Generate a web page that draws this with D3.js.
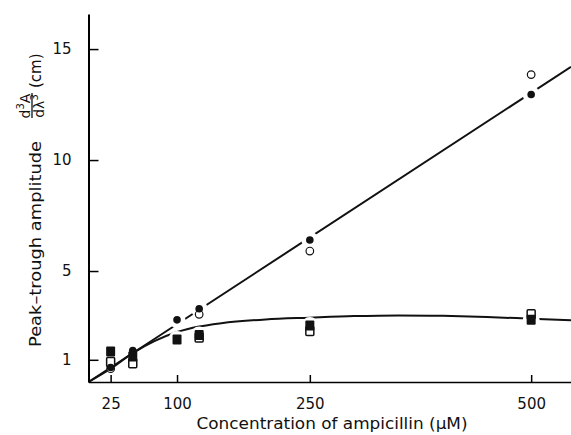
<!DOCTYPE html>
<html>
<head>
<meta charset="utf-8">
<script src="https://cdn.jsdelivr.net/npm/d3@7"></script>
<style>
  body { margin: 0; background: #fff; }
  svg { display: block; }
  text { font-family: "DejaVu Sans", sans-serif; fill: #111; }
</style>
</head>
<body>
<svg id="chart" width="571" height="435"></svg>
<script>
// ampicillin concentrations (µM)
const conc = [25, 50, 100, 125, 250, 500];

// peak-trough amplitudes (cm), null = not visible
const filledCircles = [0.65, 1.42, 2.8, 3.3, 6.4, 12.95];
const openCircles   = [0.6, null, null, 3.05, 5.9, 13.85];
const filledSquares = [1.37, 1.15, 1.92, 2.12, 2.55, 2.8];
const openSquares   = [0.9, 0.85, null, 2.0, 2.3, 3.05];

// straight line and saturating curve as drawn
const lineA = [[0, 0], [545, 14.2]];
const curveB = [[0, 0], [25, 0.6], [50, 1.3], [75, 1.85], [100, 2.25], [125, 2.5],
  [150, 2.65], [200, 2.82], [250, 2.9], [300, 2.97], [350, 3.0], [400, 2.98],
  [450, 2.93], [500, 2.85], [545, 2.78]];

const xTicks = [25, 100, 250, 500];
const yTicks = [1, 5, 10, 15];

const svg = d3.select("#chart");

const x = d3.scaleLinear().domain([0, 545]).range([88.5, 571]);
const y = d3.scaleLinear().domain([0, 16.58]).range([382, 14]);

const lineGen = d3.line()
  .x(d => x(d[0]))
  .y(d => y(d[1]));

// lines
svg.append("path")
  .datum(lineA)
  .attr("d", lineGen)
  .attr("fill", "none")
  .attr("stroke", "#111")
  .attr("stroke-width", 2);

svg.append("path")
  .datum(curveB)
  .attr("d", lineGen.curve(d3.curveMonotoneX))
  .attr("fill", "none")
  .attr("stroke", "#111")
  .attr("stroke-width", 2);

// white halos break the lines around the points, like the original
const haloIdx = [2, 3, 4, 5];
const halos = svg.append("g").attr("fill", "#fff");
haloIdx.forEach(i => {
  [filledCircles[i], filledSquares[i]].forEach(v => {
    halos.append("circle")
      .attr("cx", x(conc[i]))
      .attr("cy", y(v))
      .attr("r", 8.5);
  });
});

// axes
const xAxis = d3.axisBottom(x)
  .tickValues(xTicks)
  .tickSizeInner(-7)
  .tickSizeOuter(0)
  .tickPadding(16);

const gx = svg.append("g")
  .attr("transform", `translate(0, ${y(0)})`)
  .call(xAxis);
gx.select(".domain").attr("stroke-width", 1.5);
gx.selectAll(".tick line").attr("stroke-width", 1.5);
gx.selectAll(".tick text").attr("font-size", 15).attr("fill", "#111");

const yAxis = d3.axisLeft(y)
  .tickValues(yTicks)
  .tickSizeInner(-10)
  .tickSizeOuter(0)
  .tickPadding(17);

const gy = svg.append("g")
  .attr("transform", `translate(${x(0)}, 0)`)
  .call(yAxis);
gy.select(".domain").attr("stroke-width", 2);
gy.selectAll(".tick line").attr("stroke-width", 1.5);
gy.selectAll(".tick text").attr("font-size", 15).attr("fill", "#111");

// markers
const pts = (vals) => conc.map((c, i) => ({ c, v: vals[i] })).filter(d => d.v != null);

svg.append("g").selectAll("rect")
  .data(pts(openSquares))
  .join("rect")
  .attr("x", d => x(d.c) - 4)
  .attr("y", d => y(d.v) - 4.5)
  .attr("width", 8)
  .attr("height", 9)
  .attr("rx", 1)
  .attr("fill", "#fff")
  .attr("stroke", "#111")
  .attr("stroke-width", 1.5);

svg.append("g").selectAll("rect")
  .data(pts(filledSquares))
  .join("rect")
  .attr("x", d => x(d.c) - 4.5)
  .attr("y", d => y(d.v) - 5)
  .attr("width", 9)
  .attr("height", 10)
  .attr("rx", 1)
  .attr("fill", "#111");

svg.append("g").selectAll("circle")
  .data(pts(openCircles))
  .join("circle")
  .attr("cx", d => x(d.c))
  .attr("cy", d => y(d.v))
  .attr("r", 3.8)
  .attr("fill", "#fff")
  .attr("stroke", "#111")
  .attr("stroke-width", 1.2);

svg.append("g").selectAll("circle")
  .data(pts(filledCircles))
  .join("circle")
  .attr("cx", d => x(d.c))
  .attr("cy", d => y(d.v))
  .attr("r", 3.8)
  .attr("fill", "#111");

// x title
svg.append("text")
  .attr("x", 332)
  .attr("y", 429)
  .attr("text-anchor", "middle")
  .attr("font-size", 15)
  .attr("textLength", 271)
  .attr("lengthAdjust", "spacingAndGlyphs")
  .text("Concentration of ampicillin (\u03bcM)");

// y title, rotated, with the d3A/dλ3 fraction
const yt = svg.append("g").attr("transform", "translate(41, 347) rotate(-90)");
yt.append("text")
  .attr("x", 0)
  .attr("y", 0)
  .attr("font-size", 16)
  .attr("textLength", 206)
  .attr("lengthAdjust", "spacingAndGlyphs")
  .text("Peak\u2013trough amplitude");
yt.append("text")
  .attr("x", 241)
  .attr("y", -11.5)
  .attr("text-anchor", "middle")
  .attr("font-size", 14)
  .html("d<tspan font-size='10' dy='-6'>3</tspan><tspan dy='6'>A</tspan>");
yt.append("line")
  .attr("x1", 229).attr("x2", 254)
  .attr("y1", -9).attr("y2", -9)
  .attr("stroke", "#111")
  .attr("stroke-width", 1.3);
yt.append("text")
  .attr("x", 241)
  .attr("y", 3)
  .attr("text-anchor", "middle")
  .attr("font-size", 14)
  .html("d\u03bb<tspan font-size='10' dy='-6'>3</tspan>");
yt.append("text")
  .attr("x", 259)
  .attr("y", 0)
  .attr("font-size", 15)
  .text("(cm)");
</script>
</body>
</html>
